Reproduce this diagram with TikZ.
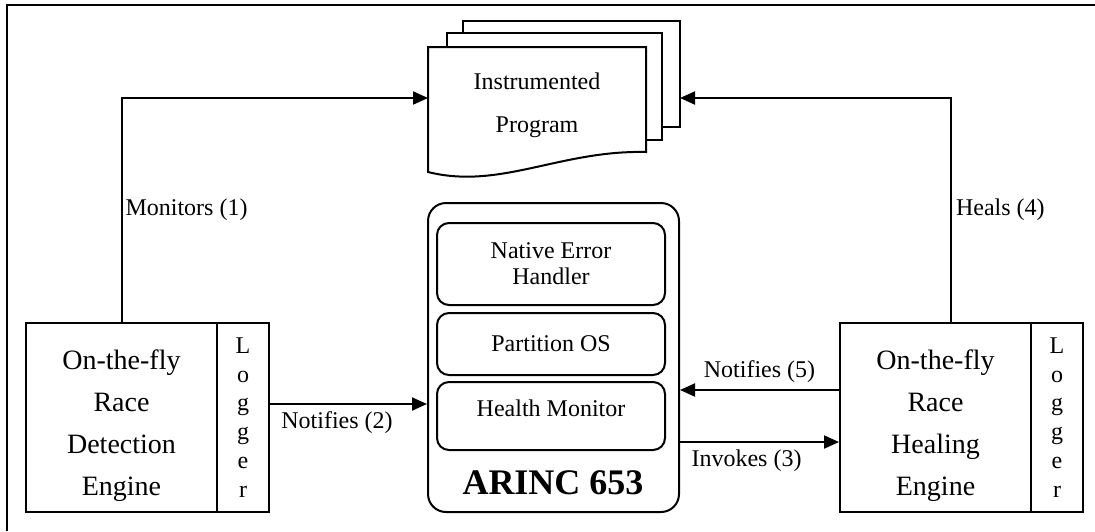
\documentclass[tikz,border=0pt]{standalone}
\usepackage{fontspec}
\setmainfont{Liberation Serif}
\usetikzlibrary{arrows.meta}

\tikzset{
  engine/.style={draw, line width=1pt, minimum width=95.5pt, minimum height=94.5pt, inner sep=0pt},
  enginetext/.style={align=center, font=\fontsize{14}{21}\selectfont},
  logger/.style={draw, line width=1pt, minimum width=26pt, minimum height=94.5pt, inner sep=0pt, align=center, font=\fontsize{12}{14.4}\selectfont},
  inbox/.style={draw, line width=1pt, rounded corners=6pt, minimum width=114pt, align=center, font=\fontsize{12}{13}\selectfont},
  lbl/.style={font=\fontsize{12}{14}\selectfont},
  arr/.style={line width=1pt, -{Triangle[length=7.5pt,width=6.5pt]}},
  page/.style={draw, line width=1pt, fill=white},
}

\begin{document}
\begin{tikzpicture}[x=0.5pt, y=-0.5pt]
\useasboundingbox (0,0) rectangle (1095,531);
%\draw[step=50,gray,very thin] (0,0) grid (1095,531); %background grid

% frame
\draw[line width=1.2pt] (7,531) -- (7,5) -- (1095,5);

% instrumented program (stack of pages)
\draw[page] (463,21) rectangle (680,127);
\draw[page] (447,33) rectangle (662,140);
\draw[page] (428,47) -- (646,47) -- (646,152) .. controls (560,150) and (500,190) .. (428,172) -- cycle;
\node[align=center, font=\fontsize{12}{21.5}\selectfont] (prog) at (537,105) {Instrumented\\Program};
\coordinate (progin)  at (428,98);
\coordinate (progout) at (680,98);

% ARINC 653
\node[draw, line width=1pt, rounded corners=9pt, minimum width=125.5pt, minimum height=154.5pt] (arinc) at (553.5,357.5) {};
\node[inbox, minimum height=41pt] (neh) at (551,264) {Native Error\\Handler};
\node[inbox, minimum height=31pt] (pos) at (551,344) {Partition OS};
\node[inbox, minimum height=34pt] (hm)  at (551,416) {};
\node[lbl] (hmtext) at (551,408) {Health Monitor};
\node[font=\fontsize{18}{20}\selectfont\bfseries] (arinctext) at (553,483) {ARINC 653};

% engines
\node[engine] (det)      at (121.5,417.5) {};
\node[enginetext] (dettext) at (121.5,425.5) {On-the-fly\\Race\\Detection\\Engine};
\node[logger] (detlog)   at (243,417.5)   {L\\o\\g\\g\\e\\r};
\node[engine] (heal)     at (935.5,417.5) {};
\node[enginetext] (healtext) at (935.5,425.5) {On-the-fly\\Race\\Healing\\Engine};
\node[logger] (heallog)  at (1057,417.5)  {L\\o\\g\\g\\e\\r};

% connectors
\draw[arr] (det.north) |- node[lbl, pos=0.25, right, inner sep=1.5pt] {Monitors (1)} (progin);
\draw[arr] ([xshift=7.75pt]heal.north) |- node[lbl, pos=0.25, right, inner sep=2pt] {Heals (4)} (progout);
\draw[arr] ([yshift=6.75pt]detlog.east) -- ([yshift=6.75pt]detlog.east -| arinc.west)
  node[lbl, midway, below, xshift=-5.75pt] {Notifies (2)};
\draw[arr] ([yshift=13.75pt]heal.west) -- ([yshift=13.75pt]heal.west -| arinc.east)
  node[lbl, midway, above] {Notifies (5)};
\draw[arr] ([yshift=-12.25pt]heal.west -| arinc.east) -- ([yshift=-12.25pt]heal.west)
  node[lbl, midway, below, xshift=-6.5pt] {Invokes (3)};

\end{tikzpicture}
\end{document}
